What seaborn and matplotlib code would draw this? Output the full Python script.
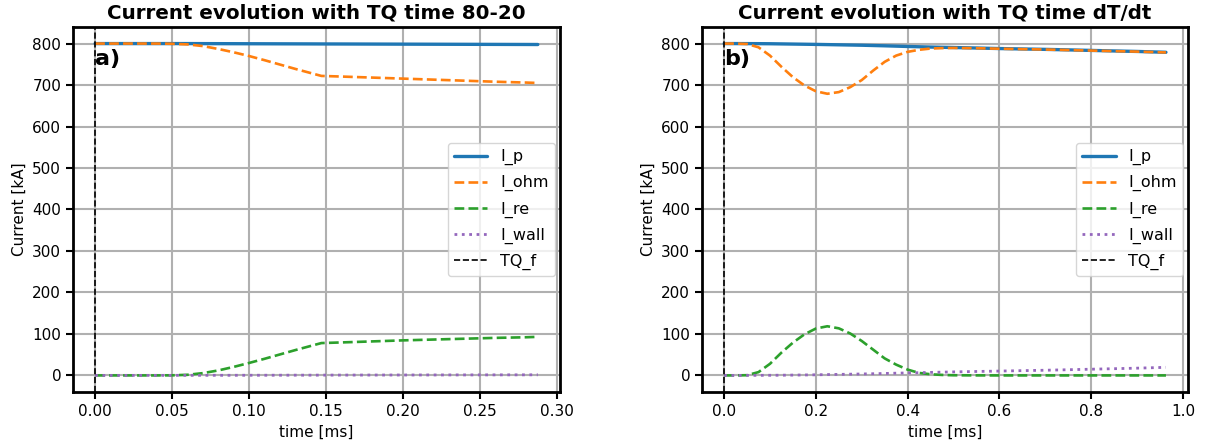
import numpy as np
import pandas as pd
import seaborn as sns
import matplotlib
matplotlib.use("Agg")
import matplotlib.pyplot as plt

# ---- Panel a) : TQ time 80-20 ----
t_a = [0.0, 0.02, 0.04, 0.05, 0.06, 0.07, 0.08, 0.09, 0.10, 0.11, 0.12, 0.13,
       0.14, 0.147, 0.16, 0.18, 0.20, 0.22, 0.24, 0.26, 0.28, 0.2876]
ip_a = [800.0, 800.0, 800.0, 800.0, 800.0, 799.9, 799.8, 799.7, 799.6, 799.5, 799.4, 799.3,
        799.2, 799.1, 799.0, 798.8, 798.6, 798.4, 798.2, 798.0, 797.8, 797.7]
iohm_a = [800.0, 800.0, 800.0, 799.5, 798.0, 794.0, 787.0, 779.0, 770.0, 760.0, 749.5, 739.0,
          729.0, 722.0, 720.5, 718.0, 715.5, 713.0, 710.5, 708.0, 706.0, 705.0]
ire_a = [0.0, 0.0, 0.0, 0.2, 1.5, 5.5, 12.0, 20.5, 30.0, 40.0, 50.5, 61.0,
         71.0, 78.0, 79.5, 82.0, 84.5, 86.5, 88.5, 90.5, 92.0, 93.0]
iwall_a = [0.0, 0.0, 0.1, 0.1, 0.2, 0.2, 0.3, 0.3, 0.4, 0.4, 0.5, 0.6,
           0.6, 0.7, 0.8, 0.9, 1.0, 1.1, 1.2, 1.3, 1.4, 1.5]

# ---- Panel b) : TQ time dT/dt ----
t_b = [0.0, 0.025, 0.05, 0.075, 0.10, 0.125, 0.15, 0.175, 0.20, 0.225, 0.25, 0.275,
       0.30, 0.325, 0.35, 0.375, 0.40, 0.425, 0.45, 0.475, 0.50, 0.55, 0.60, 0.65,
       0.70, 0.75, 0.80, 0.85, 0.90, 0.963]
ip_b = [800.0, 800.0, 799.9, 799.8, 799.6, 799.2, 798.8, 798.4, 798.0, 797.5, 797.0, 796.5,
        796.0, 795.3, 794.6, 793.8, 793.0, 792.3, 791.6, 791.0, 790.5, 789.3, 788.0, 787.0,
        786.0, 784.8, 783.5, 782.2, 781.0, 779.0]
iohm_b = [800.0, 800.0, 799.0, 791.0, 771.0, 744.0, 719.0, 699.0, 685.0, 679.0, 683.0, 695.0,
          712.0, 735.0, 756.0, 771.0, 780.0, 785.0, 788.0, 789.0, 789.5, 788.8, 787.6, 786.6,
          785.6, 784.4, 783.1, 781.8, 780.6, 778.6]
ire_b = [0.0, 0.0, 0.5, 8.0, 28.0, 55.0, 79.0, 99.0, 113.0, 118.5, 113.5, 101.0,
         83.0, 62.0, 41.0, 26.0, 14.0, 6.0, 2.8, 1.2, 0.4, 0.1, 0.0, 0.0,
         0.0, 0.0, 0.0, 0.0, 0.0, 0.0]
iwall_b = [0.0, 0.0, 0.1, 0.2, 0.3, 0.5, 0.8, 1.1, 1.5, 2.0, 2.5, 3.0,
           3.5, 4.1, 4.7, 5.4, 6.0, 6.6, 7.3, 7.9, 8.5, 9.5, 10.5, 11.5,
           12.5, 13.7, 15.0, 16.2, 17.5, 19.5]

titles = ["Current evolution with TQ time 80-20", "Current evolution with TQ time dT/dt"]
panel_labels = ["a)", "b)"]
series_names = ["I_p", "I_ohm", "I_re", "I_wall"]

sns.set_style("ticks")
plt.rcParams['font.family'] = ['DejaVu Sans']
plt.rcParams.update({"text.color": "black", "axes.labelcolor": "black",
                     "xtick.color": "black", "ytick.color": "black"})

fig = plt.figure(figsize=(12.06, 4.43), dpi=100)
ax1 = fig.add_axes([0.0605, 0.1151, 0.4038, 0.824])
ax2 = fig.add_axes([0.5821, 0.1151, 0.4030, 0.824])

styles = [dict(color="#1f77b4", linestyle="-", linewidth=2.4),
          dict(color="#ff7f0e", linestyle="--", linewidth=1.9),
          dict(color="#2ca02c", linestyle="--", linewidth=1.9),
          dict(color="#9467bd", linestyle=":", linewidth=2.0)]

panels = [(ax1, t_a, [ip_a, iohm_a, ire_a, iwall_a]),
          (ax2, t_b, [ip_b, iohm_b, ire_b, iwall_b])]

for i, (ax, t, ys) in enumerate(panels):
    ax.grid(True, color="#b0b0b0", linewidth=1.5)
    ax.set_axisbelow(True)
    for name, y, st in zip(series_names, ys, styles):
        df = pd.DataFrame({"t": t, "v": y})
        sns.lineplot(data=df, x="t", y="v", ax=ax, label=name, **st)
    ax.axvline(0.0, color="black", linestyle="--", linewidth=1.2, label="TQ_f")
    ax.set_title(titles[i], fontsize=14.3, fontweight="bold", color="black")
    ax.set_xlabel("time [ms]", fontsize=11)
    ax.set_ylabel("Current [kA]", fontsize=11)
    ax.tick_params(axis="both", labelsize=11, width=1.5, length=5, color="black",
                   labelcolor="black")
    for sp in ax.spines.values():
        sp.set_visible(True)
        sp.set_linewidth(2.0)
        sp.set_color("black")
    ax.text(0.0, 762, panel_labels[i], fontsize=16, fontweight="bold", va="center",
            ha="left", color="black")
    leg = ax.legend(loc="center right", fontsize=11.5, handlelength=2.1,
                    borderaxespad=0.3, labelspacing=0.62)
    for txt in leg.get_texts():
        txt.set_color("black")
    ax.margins(x=0.05, y=0.05)

ax1.set_yticks([0, 100, 200, 300, 400, 500, 600, 700, 800])
ax2.set_yticks([0, 100, 200, 300, 400, 500, 600, 700, 800])

fig.savefig("out.png", dpi=100)
